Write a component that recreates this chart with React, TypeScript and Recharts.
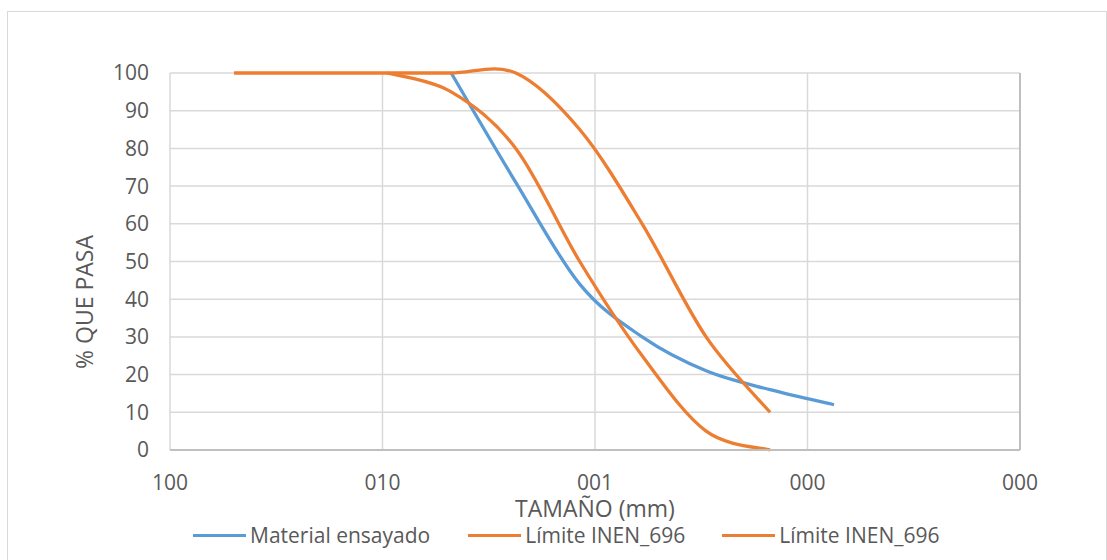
import React from 'react';
import { LineChart, Line, XAxis, YAxis, CartesianGrid, Legend, Label, ReferenceLine } from 'recharts';

// ---- data ----
const materialSieves = [4.75, 2.36, 1.18, 0.6, 0.3, 0.15, 0.075];
const materialPass = [100, 71, 44, 30, 21, 16, 12];

const upperSieves = [50, 9.5, 4.75, 2.36, 1.18, 0.6, 0.3, 0.15];
const upperPass = [100, 100, 100, 100, 85, 60, 30, 10];

const lowerSieves = [9.5, 4.75, 2.36, 1.18, 0.6, 0.3, 0.15];
const lowerPass = [100, 95, 80, 50, 25, 5, 0];

const xTicks = [100, 10, 1, 0.1, 0.01];
const yTicks = [0, 10, 20, 30, 40, 50, 60, 70, 80, 90, 100];

const seriesNames = ['Material ensayado', 'Límite INEN_696', 'Límite INEN_696'];
const BLUE = '#5b9bd5';
const ORANGE = '#ed7d31';

const toRows = (s: number[], p: number[]) => s.map((v, i) => ({ size: v, pass: p[i] }));
const materialData = toRows(materialSieves, materialPass);
const upperData = toRows(upperSieves, upperPass);
const lowerData = toRows(lowerSieves, lowerPass);

// Excel-like smooth line (Catmull-Rom as cubic Bezier)
function excelSmooth(context: any) {
  let pts: [number, number][] = [];
  return {
    areaStart() {},
    areaEnd() {},
    lineStart() {
      pts = [];
    },
    point(x: number, y: number) {
      pts.push([+x, +y]);
    },
    lineEnd() {
      const n = pts.length;
      if (!n) return;
      context.moveTo(pts[0][0], pts[0][1]);
      for (let i = 0; i < n - 1; i++) {
        const p0 = pts[Math.max(0, i - 1)];
        const p1 = pts[i];
        const p2 = pts[i + 1];
        const p3 = pts[Math.min(n - 1, i + 2)];
        const c1x = p1[0] + (p2[0] - p0[0]) / 6;
        const c1y = p1[1] + (p2[1] - p0[1]) / 6;
        const c2x = p2[0] - (p3[0] - p1[0]) / 6;
        const c2y = p2[1] - (p3[1] - p1[1]) / 6;
        context.bezierCurveTo(c1x, c1y, c2x, c2y, p2[0], p2[1]);
      }
    },
  };
}

const fmt = (v: number) => String(Math.round(v)).padStart(3, '0');

const TEXT = '#595959';
const FONT = "'Open Sans', sans-serif";

const LegendContent = () => {
  const colors = [BLUE, ORANGE, ORANGE];
  const gaps = [0, 38, 37];
  return (
    <div style={{ display: 'flex', alignItems: 'center', paddingLeft: 193, height: 29, fontFamily: FONT, fontSize: 21, color: TEXT, whiteSpace: 'nowrap' }}>
      {seriesNames.map((n, i) => (
        <div key={i} style={{ display: 'flex', alignItems: 'center', marginLeft: gaps[i] }}>
          <div style={{ width: 53, height: 3, background: colors[i], marginRight: 4 }} />
          <span style={{ lineHeight: '29px' }}>{n}</span>
        </div>
      ))}
    </div>
  );
};

export default function App() {
  return (
    <div style={{ position: 'fixed', left: 0, top: 0, width: 1107, height: 560, background: '#fff', fontFamily: FONT }}>
      <div style={{ position: 'absolute', left: 7, top: 11, width: 1100, height: 560, border: '1px solid #d9d9d9', boxSizing: 'border-box' }} />
      <div style={{ position: 'absolute', left: 0, top: 0 }}>
        <LineChart width={1107} height={560} margin={{ top: 73, right: 87, bottom: 50, left: 100 }}>
          <CartesianGrid stroke="#d9d9d9" strokeWidth={1.5} />
          <XAxis
            dataKey="size"
            type="number"
            scale="log"
            domain={[0.01, 100]}
            allowDataOverflow
            reversed
            ticks={xTicks}
            interval={0}
            tickFormatter={fmt}
            height={60}
            tickLine={false}
            tickSize={0}
            tickMargin={25}
            axisLine={{ stroke: '#bfbfbf', strokeWidth: 2 }}
            tick={{ fill: TEXT, fontSize: 21, fontFamily: FONT }}
          >
            <Label
              content={({ viewBox }: any) => (
                <text x={viewBox.x + viewBox.width / 2} y={viewBox.y + 67} textAnchor="middle" fill={TEXT} fontSize={23} fontFamily={FONT}>
                  TAMAÑO (mm)
                </text>
              )}
            />
          </XAxis>
          <YAxis
            type="number"
            domain={[0, 100]}
            ticks={yTicks}
            interval={0}
            width={70}
            axisLine={false}
            tickLine={false}
            tickSize={0}
            tickMargin={21}
            tick={{ fill: TEXT, fontSize: 21, fontFamily: FONT }}
          >
            <Label
              content={({ viewBox }: any) => (
                <text
                  x={viewBox.x - 7}
                  y={302}
                  transform={`rotate(-90 ${viewBox.x - 7} 302)`}
                  textAnchor="middle"
                  fill={TEXT}
                  fontSize={23}
                  fontFamily={FONT}
                >
                  % QUE PASA
                </text>
              )}
            />
          </YAxis>
          <ReferenceLine x={0.01} stroke="#bfbfbf" strokeWidth={2} />
          <Legend
            layout="horizontal"
            verticalAlign="middle"
            align="center"
            wrapperStyle={{ top: 521, left: 0, width: 1107 }}
            content={() => <LegendContent />}
          />
          <Line data={materialData} dataKey="pass" name={seriesNames[0]} type={excelSmooth as any} stroke={BLUE} strokeWidth={3.3} dot={false} activeDot={false} isAnimationActive={false} />
          <Line data={lowerData} dataKey="pass" name={seriesNames[1]} type={excelSmooth as any} stroke={ORANGE} strokeWidth={3.3} dot={false} activeDot={false} isAnimationActive={false} />
          <Line data={upperData} dataKey="pass" name={seriesNames[2]} type={excelSmooth as any} stroke={ORANGE} strokeWidth={3.3} dot={false} activeDot={false} isAnimationActive={false} />
        </LineChart>
      </div>
    </div>
  );
}
